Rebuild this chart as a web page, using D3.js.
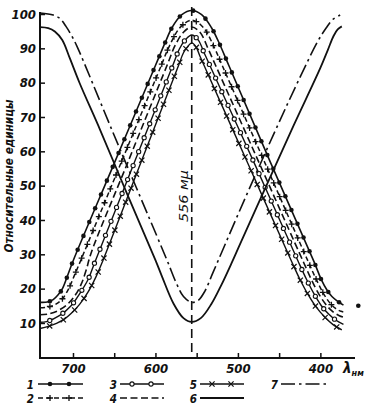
<!DOCTYPE html>
<html>
<head>
<meta charset="utf-8">
<script src="https://cdn.jsdelivr.net/npm/d3@7"></script>
<style>
  body { margin: 0; background: #fff; }
  svg { display: block; }
</style>
</head>
<body>
<svg id="chart" width="370" height="407"></svg>
<script>
// wavelength (nm) on x, relative units on y
const wavelengthTicks = [700, 650, 600, 550, 500, 450, 400]
const wavelengthLabels = [700, 600, 500, 400]
const valueTicks = [10, 20, 30, 40, 50, 60, 70, 80, 90, 100]
const markerLine = 556

// 1: solid, filled dots
const curve1 = [[740,16],[731,16.1],[724,16.8],[718,18.2],[713,19.9],[707,23.5],[700,28],[650,56.5],[600,85],
  [588,91.8],[580,96],[568,99.8],[556,101],[544,99.8],[532,96],[524,92.2],
  [511,85],[460,56.5],[408,28],[399,22.7],[392,19.6],[386,17.7],[379,16.3],[372,15.2]]
// 2: dashed, plus marks
const curve2 = [[740,14.4],[732,14.6],[722,15.3],[713,17],[705,20.1],[698,24],[691,28],[642,56.5],[593,85],
  [584,90.2],[570,96.1],[556,98.2],[542,96.1],[528,89.9],
  [519,85],[467,56.5],[415,28],[405,22.7],[397,18.9],[390,16.3],[382,14.3],[375,13.4],[370,13.1]]
// 3: solid, open circles
const curve3 = [[740,10.2],[732,10.4],[716,12.2],[702,15.1],[692,18.5],[682,22.5],[673,28],[626,56.5],[579,85],
  [571,89.8],[564,92.4],[556,93.9],[548,92.4],[541,88.7],
  [534,85],[480,56.5],[427,28],[417,22.8],[408,18.6],[399,15.1],[390,12.6],[381,10.8],[372,9.6]]
// 4: dashed
const curve4 = [[740,12.4],[730,12.6],[718,13.6],[706,15.6],[697,18.2],[690,21.3],[684,25.4],[678,30.4],[634,56.5],[586,85],
  [576,90.9],[566,94.7],[556,96.2],[546,94.7],[536,89.8],
  [527,85],[474,56.5],[421,28],[411,22.7],[402,18.5],[394,15.6],[386,13.5],[377,12.1],[369,11.5]]
// 5: solid, crosses
const curve5 = [[740,8.4],[730,9],[720,9.9],[710,11.2],[702,12.8],[692,15.4],[682,18.9],[672,23.5],[664,28],[618,56.5],[572,85],
  [566,88.7],[561,90.5],[556,91.6],[551,90.5],[546,87.7],
  [541,85],[488,56.5],[435,28],[425,22.8],[415,18.3],[405,14.6],[395,11.8],[385,9.6],[374,8]]
// 6: solid
const curve6 = [[740,96.2],[730,95.9],[722,94.9],[713,92.4],[704,87.2],[692,79.9],[667,66.2],[634,47.4],[600,28.3],
  [592,23.5],[578,15.6],[566,11.4],[556,10.3],[545,11.4],[532,15.6],[520,21.1],[507,27.8],[497,33.2],
  [466,49.7],[435,66.2],[400,84.3],[391,89.5],[384,93.6],[379,95.5],[374,96.4]]
// 7: dash-dot
const curve7 = [[740,100.3],[724,99.7],[716,98.7],[708.5,96.4],[701,93.4],[695,90.5],[651,65.2],[586,28.3],
  [575,21.8],[566,17.7],[556,16],[548,16.6],[540,19.3],[530,24.8],[497.5,42.9],[457,64.8],[425,81.4],
  [403,92.1],[393,95.9],[385,98.4],[376,99.7]]
// stray dot of curve 1 past the axis end
const strayDot = [[354, 15]]

const ink = '#111'
const numFont = '"DejaVu Sans Condensed", "DejaVu Sans", sans-serif'

const svg = d3.select('#chart')

const x = d3.scaleLinear().domain([740, 358]).range([40, 355])
const y = d3.scaleLinear().domain([0, 100]).range([357.3, 14])

const line = d3.line()
  .x(d => x(d[0]))
  .y(d => y(d[1]))
  .curve(d3.curveCatmullRom.alpha(0.5))

const markers = {
  dot: (g, p) => g.append('circle').attr('cx', p.x).attr('cy', p.y).attr('r', 2.3).attr('fill', ink),
  ring: (g, p) => g.append('circle').attr('cx', p.x).attr('cy', p.y).attr('r', 2.1)
    .attr('fill', '#fff').attr('stroke', ink).attr('stroke-width', 1.1),
  plus: (g, p) => g.append('path').attr('d', `M${p.x - 3},${p.y}h6M${p.x},${p.y - 3}v6`)
    .attr('stroke', ink).attr('stroke-width', 1.3),
  cross: (g, p) => g.append('path').attr('d', `M${p.x - 2.6},${p.y - 2.6}l5.2,5.2M${p.x - 2.6},${p.y + 2.6}l5.2,-5.2`)
    .attr('stroke', ink).attr('stroke-width', 1.2),
}

const series = [
  {key: '1', data: curve1, dash: null, mark: 'dot', width: 1.6},
  {key: '2', data: curve2, dash: '5,3', mark: 'plus', width: 1.5},
  {key: '3', data: curve3, dash: null, mark: 'ring', width: 1.4},
  {key: '4', data: curve4, dash: '7,3.5', mark: null, width: 1.6},
  {key: '5', data: curve5, dash: null, mark: 'cross', width: 1.4},
  {key: '6', data: curve6, dash: null, mark: null, width: 1.8},
  {key: '7', data: curve7, dash: '14,4,2.5,4', mark: null, width: 1.6},
]

function placeMarks(g, node, kind, spacing, offset) {
  if (!kind) return
  const len = node.getTotalLength()
  for (let s = offset; s < len - 2; s += spacing) {
    markers[kind](g, node.getPointAtLength(s))
  }
}

// axes
const yAxis = d3.axisLeft(y).tickValues(valueTicks).tickSize(-5).tickPadding(4)
svg.append('g')
  .attr('transform', 'translate(40,0)')
  .call(yAxis)
  .call(g => g.select('.domain').remove())
  .call(g => g.selectAll('line').attr('stroke', ink).attr('stroke-width', 1.5))
  .attr('font-family', numFont).attr('font-size', 13)
  .attr('font-style', 'italic').attr('font-weight', 'bold')
  .call(g => g.selectAll('text').attr('fill', ink))

const xAxis = d3.axisBottom(x).tickValues(wavelengthTicks).tickSize(-5).tickPadding(6)
  .tickFormat(d => wavelengthLabels.includes(d) ? d : '')
svg.append('g')
  .attr('transform', 'translate(0,358)')
  .call(xAxis)
  .call(g => g.select('.domain').remove())
  .call(g => g.selectAll('line').attr('stroke', ink).attr('stroke-width', 1.5))
  .attr('font-family', numFont).attr('font-size', 13)
  .attr('font-style', 'italic').attr('font-weight', 'bold')
  .call(g => g.selectAll('text').attr('fill', ink))

svg.append('line').attr('x1', 40).attr('x2', 40).attr('y1', 12).attr('y2', 359)
  .attr('stroke', ink).attr('stroke-width', 2)
svg.append('line').attr('x1', 39).attr('x2', 355).attr('y1', 358).attr('y2', 358)
  .attr('stroke', ink).attr('stroke-width', 2)

// lambda unit label
const unit = svg.append('text').attr('x', 343).attr('y', 373)
  .attr('font-family', numFont).attr('font-style', 'italic').attr('font-weight', 'bold')
  .attr('fill', ink).attr('font-size', 15)
unit.append('tspan').text('λ')
unit.append('tspan').attr('font-size', 9).attr('dy', 3).text('нм')

// y title
svg.append('text')
  .attr('transform', 'translate(13,176) rotate(-90)')
  .attr('text-anchor', 'middle')
  .attr('font-family', numFont).attr('font-style', 'italic').attr('font-weight', 'bold')
  .attr('font-size', 12.5).attr('fill', ink)
  .attr('textLength', 153).attr('lengthAdjust', 'spacingAndGlyphs')
  .text('Относительные единицы')

// 556 line
svg.append('line')
  .attr('x1', x(markerLine)).attr('x2', x(markerLine)).attr('y1', 7).attr('y2', 358)
  .attr('stroke', ink).attr('stroke-width', 1.6).attr('stroke-dasharray', '9,5')
svg.append('text')
  .attr('transform', `translate(${x(markerLine) - 4},196) rotate(-90)`)
  .attr('text-anchor', 'middle')
  .attr('font-family', numFont).attr('font-style', 'italic')
  .attr('font-size', 13).attr('fill', ink)
  .attr('textLength', 52).attr('lengthAdjust', 'spacingAndGlyphs')
  .text(markerLine + ' мμ')

// curves
const plot = svg.append('g')
series.forEach(s => {
  const path = plot.append('path')
    .attr('d', line(s.data))
    .attr('fill', 'none')
    .attr('stroke', ink)
    .attr('stroke-width', s.width)
    .attr('stroke-dasharray', s.dash)
  placeMarks(plot, path.node(), s.mark, 15, 10)
})
strayDot.forEach(d => markers.dot(plot, {x: x(d[0]), y: y(d[1])}))

// legend
const legendSlots = {
  '1': [34, 38, 83, 384], '2': [34, 38, 83, 398],
  '3': [117, 120, 164, 384], '4': [117, 120, 164, 398],
  '5': [197, 200, 244, 384], '6': [197, 200, 244, 398],
  '7': [278, 281, 326, 384],
}
const legend = svg.append('g')
series.forEach(s => {
  const [nx, x0, x1, ly] = legendSlots[s.key]
  legend.append('text')
    .attr('x', nx).attr('y', ly + 4.5).attr('text-anchor', 'end')
    .attr('font-family', numFont).attr('font-style', 'italic').attr('font-weight', 'bold')
    .attr('font-size', 11.5).attr('fill', ink)
    .text(s.key)
  const path = legend.append('path')
    .attr('d', `M${x0},${ly}H${x1}`)
    .attr('stroke', ink)
    .attr('stroke-width', s.width)
    .attr('stroke-dasharray', s.dash)
  placeMarks(legend, path.node(), s.mark, 19, 12)
})
</script>
</body>
</html>
